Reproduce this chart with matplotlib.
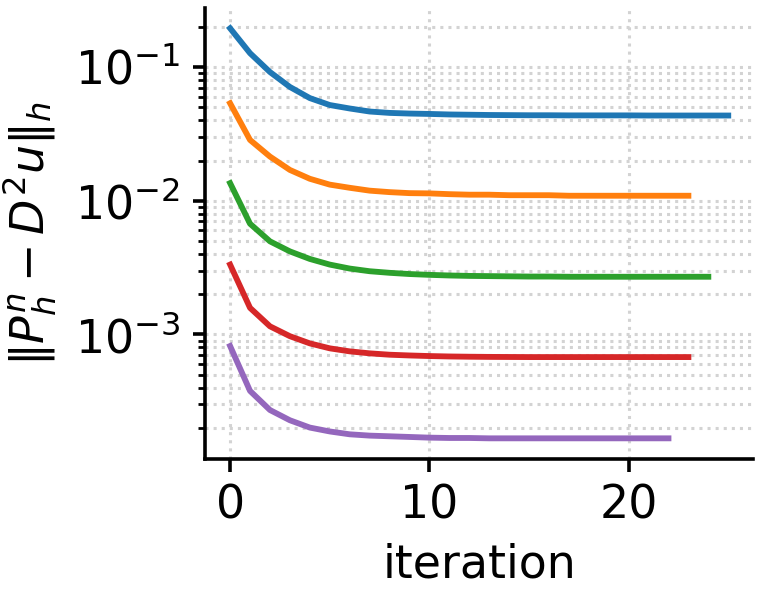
import matplotlib.pyplot as plt
import numpy as np

# error per iteration, one array per mesh level
err1 = [0.195, 0.127, 0.0918, 0.071, 0.0586, 0.052, 0.049, 0.0465, 0.0454, 0.0449, 0.0446,
        0.0442, 0.0440, 0.0438, 0.0437, 0.0436, 0.0436, 0.0435, 0.0435, 0.0435, 0.0435,
        0.0434, 0.0434, 0.0434, 0.0434, 0.0434]
err2 = [0.0536, 0.0285, 0.0214, 0.017, 0.0146, 0.0132, 0.0125, 0.0119, 0.0116, 0.0114, 0.01135,
        0.0112, 0.0111, 0.0111, 0.0110, 0.0110, 0.0110, 0.0109, 0.0109, 0.0109, 0.0109,
        0.0109, 0.0109, 0.0109]
err3 = [0.01355, 0.00673, 0.00497, 0.00418, 0.00367, 0.00333, 0.00311, 0.00297, 0.00289, 0.00283, 0.00279,
        0.00276, 0.00274, 0.00273, 0.00272, 0.00271, 0.00271, 0.00270, 0.00270, 0.00270, 0.00270,
        0.00270, 0.00270, 0.00270, 0.00270]
err4 = [0.00333, 0.00158, 0.00115, 0.00097, 0.000857, 0.000787, 0.000747, 0.000722, 0.000705, 0.000696, 0.000689,
        0.000684, 0.000681, 0.000679, 0.000678, 0.000677, 0.000677, 0.000677, 0.000677, 0.000677, 0.000677,
        0.000677, 0.000677, 0.000677]
err5 = [0.000819, 0.000378, 0.000272, 0.000228, 0.000201, 0.000188, 0.000179, 0.000175, 0.000173, 0.000171, 0.000169,
        0.000168, 0.000168, 0.000167, 0.000167, 0.000167, 0.000167, 0.000167, 0.000167, 0.000167, 0.000167,
        0.000167, 0.000167]

fig = plt.figure(figsize=(7.6, 5.99), dpi=100)
ax = fig.add_axes([0.27, 0.234, 0.721, 0.753])

for e in [err1, err2, err3, err4, err5]:
    ax.plot(np.arange(len(e)), e, lw=4.2)

ax.set_yscale('log')
ax.grid(True, which='both', ls=':', lw=2.2, color='lightgray')
ax.spines['top'].set_visible(False)
ax.spines['right'].set_visible(False)
for s in ['left', 'bottom']:
    ax.spines[s].set_linewidth(2.6)
ax.tick_params(which='major', length=9, width=2.6, labelsize=33, pad=9)
ax.tick_params(which='minor', length=4.7, width=2.0)
ax.set_xlabel('iteration', fontsize=33, labelpad=10)
ax.set_ylabel(r'$\|P_h^n - D^2 u\|_h$', fontsize=33, labelpad=11)

fig.savefig('out.png', dpi=100)
